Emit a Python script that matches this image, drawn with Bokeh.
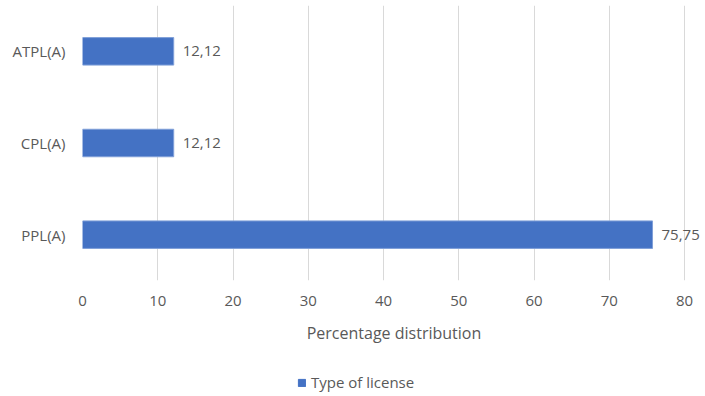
from bokeh.plotting import figure
from bokeh.models import ColumnDataSource, Legend, LegendItem, LabelSet
from bokeh.layouts import column
from bokeh.core.properties import value
from bokeh.embed import file_html
from bokeh.resources import INLINE

categories = ["PPL(A)", "CPL(A)", "ATPL(A)"]
values = [75.75, 12.12, 12.12]
labels = ["75,75", "12,12", "12,12"]
series_name = "Type of license"
x_ticks = [0, 10, 20, 30, 40, 50, 60, 70, 80]

FONT = "Open Sans"
GREY = "#595959"
BAR = "#4472C4"

src = ColumnDataSource(dict(cat=categories, val=values, lab=labels))

p = figure(width=705, height=350, y_range=categories, x_range=(0, 82.79),
           output_backend="svg", toolbar_location=None,
           min_border_left=82, min_border_right=0, min_border_top=5,
           min_border_bottom=70)
p.frame_width = 623
p.frame_height = 275

r = p.hbar(y="cat", right="val", left=0, height=0.3, source=src,
           fill_color=BAR, line_color="#7f9fd8", line_width=1)

p.add_layout(LabelSet(x="val", y="cat", text="lab", source=src, x_offset=9,
                      text_baseline="middle", text_font=value(FONT),
                      text_font_size="15px", text_color=GREY))

p.outline_line_color = None
p.background_fill_color = "white"
p.border_fill_color = "white"

p.xaxis.ticker = x_ticks
p.xaxis.axis_line_color = None
p.xaxis.major_tick_line_color = None
p.xaxis.minor_tick_line_color = None
p.xaxis.major_label_text_font = FONT
p.xaxis.major_label_text_font_size = "15px"
p.xaxis.major_label_text_color = GREY
p.xaxis.major_label_standoff = 9
p.xaxis.axis_label = "Percentage distribution"
p.xaxis.axis_label_text_font = FONT
p.xaxis.axis_label_text_font_size = "16px"
p.xaxis.axis_label_text_font_style = "normal"
p.xaxis.axis_label_text_color = GREY
p.xaxis.axis_label_standoff = 13

p.yaxis.axis_line_color = None
p.yaxis.major_tick_line_color = None
p.yaxis.minor_tick_line_color = None
p.yaxis.major_label_text_font = FONT
p.yaxis.major_label_text_font_size = "15px"
p.yaxis.major_label_text_color = GREY
p.yaxis.major_label_standoff = 11

p.xgrid.grid_line_color = "#d9d9d9"
p.ygrid.grid_line_color = None

# legend strip below the chart (proxy bar kept outside the visible range)
p2 = figure(width=705, height=46, x_range=(0, 1), y_range=(0, 1),
            output_backend="svg", toolbar_location=None,
            x_axis_type=None, y_axis_type=None,
            min_border_left=0, min_border_right=0, min_border_top=0,
            min_border_bottom=0)
p2.outline_line_color = None
p2.xgrid.grid_line_color = None
p2.ygrid.grid_line_color = None
r2 = p2.hbar(y=[-10], right=[-9], left=-10, height=0.3,
             fill_color=BAR, line_color=BAR)

legend = Legend(items=[LegendItem(label=series_name, renderers=[r2])],
                location=(215, 4), orientation="horizontal",
                border_line_color=None, background_fill_alpha=0,
                label_text_font=FONT, label_text_font_size="15px",
                label_text_color=GREY, glyph_width=9, glyph_height=9,
                padding=0, margin=0, label_standoff=5)
p2.add_layout(legend, "center")

layout = column(p, p2, spacing=0)
open("out.html", "w").write(file_html(layout, INLINE))
